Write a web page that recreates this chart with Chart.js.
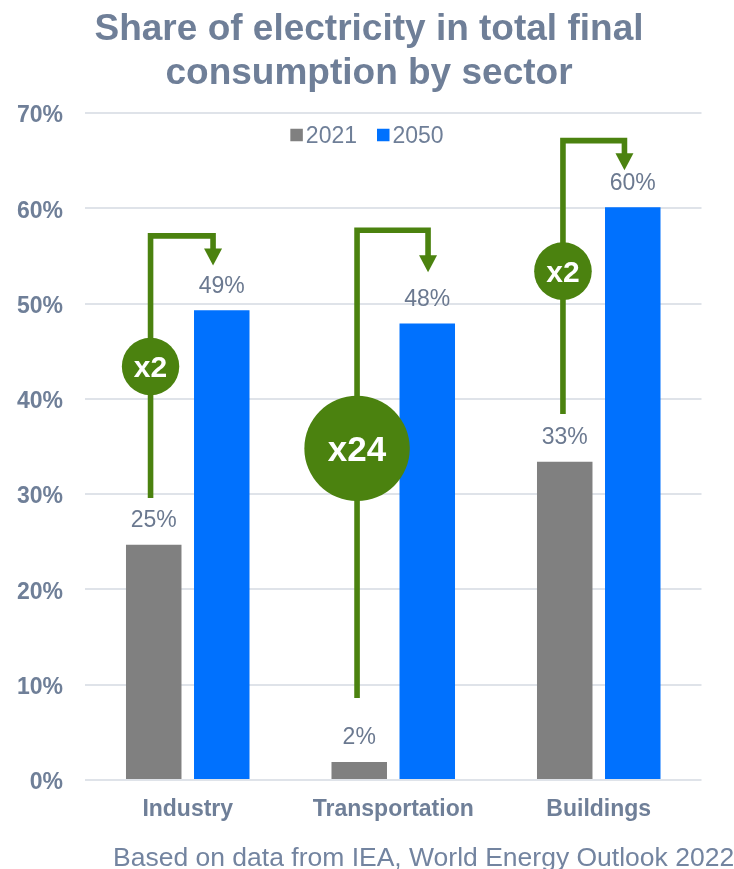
<!DOCTYPE html>
<html>
<head>
<meta charset="utf-8">
<title>Share of electricity in total final consumption by sector</title>
<script src="https://cdn.jsdelivr.net/npm/chart.js@4.4.1/dist/chart.umd.min.js"></script>
<style>
  html, body { margin: 0; padding: 0; background: #ffffff; }
  #wrap { position: relative; width: 734px; height: 869px; }
  canvas { display: block; }
</style>
</head>
<body>
<div id="wrap"><canvas id="chart" width="734" height="869"></canvas></div>
<script>
// ---- Data ----
const categories = ['Industry', 'Transportation', 'Buildings'];
const seriesNames = ['2021', '2050'];
const share2021 = [24.7, 1.9, 33.4];
const share2050 = [49.3, 47.9, 60.1];
const growthLabels = ['x2', 'x24', 'x2'];
const yTickValues = [0, 10, 20, 30, 40, 50, 60, 70];
const titleLines = ['Share of electricity in total final', 'consumption by sector'];
const sourceNote = 'Based on data from IEA, World Energy Outlook 2022';

// ---- Styling ----
const FONT = "'Liberation Sans', Arial, Helvetica, sans-serif";
const TEXT_COLOR = '#6f7f98';
const LABEL_COLOR = '#6b7990';
const GRAY = '#808080';
const BLUE = '#0071fe';
const GREEN = '#4b820f';

// Arrow connectors (value units on the y scale, pixel offsets from category centre)
const arrowGeometry = [
  { from: 29.6, top: 57.1, tip: 54.0, badge: 43.4, r: 28.7, left: -37.2, right: 25.3, fontSize: 30 },
  { from: 8.6,  top: 57.7, tip: 53.3, badge: 34.8, r: 52.7, left: -36.2, right: 34.8, fontSize: 35 },
  { from: 38.4, top: 67.1, tip: 64.0, badge: 53.4, r: 28.8, left: -35.8, right: 25.7, fontSize: 30 }
];

const decorations = {
  id: 'decorations',
  afterDatasetsDraw(chart) {
    const ctx = chart.ctx;
    const x = chart.scales.x, y = chart.scales.y;

    // value labels above each bar
    ctx.save();
    ctx.font = `23px ${FONT}`;
    ctx.fillStyle = LABEL_COLOR;
    ctx.textAlign = 'center';
    ctx.textBaseline = 'alphabetic';
    chart.data.datasets.forEach((ds, di) => {
      chart.getDatasetMeta(di).data.forEach((bar, i) => {
        ctx.fillText(Math.round(ds.data[i]) + '%', bar.x, bar.y - 17.5);
      });
    });
    ctx.restore();

    // growth arrows with badges
    arrowGeometry.forEach((g, i) => {
      const cx = x.getPixelForValue(i);
      const lx = cx + g.left, rx = cx + g.right;
      const yFrom = y.getPixelForValue(g.from);
      const yTop = y.getPixelForValue(g.top);
      const yTip = y.getPixelForValue(g.tip);
      const head = 17;
      ctx.save();
      ctx.strokeStyle = GREEN;
      ctx.fillStyle = GREEN;
      ctx.lineWidth = 5.6;
      ctx.lineJoin = 'miter';
      ctx.lineCap = 'butt';
      ctx.beginPath();
      ctx.moveTo(lx, yFrom);
      ctx.lineTo(lx, yTop);
      ctx.lineTo(rx, yTop);
      ctx.lineTo(rx, yTip - head + 1);
      ctx.stroke();
      ctx.beginPath();
      ctx.moveTo(rx - 9, yTip - head);
      ctx.lineTo(rx + 9, yTip - head);
      ctx.lineTo(rx, yTip);
      ctx.closePath();
      ctx.fill();
      const by = y.getPixelForValue(g.badge);
      ctx.beginPath();
      ctx.arc(lx, by, g.r, 0, Math.PI * 2);
      ctx.fill();
      ctx.fillStyle = '#ffffff';
      ctx.font = `bold ${g.fontSize}px ${FONT}`;
      ctx.textAlign = 'center';
      ctx.textBaseline = 'alphabetic';
      ctx.fillText(growthLabels[i], lx, by + g.fontSize * 0.358);
      ctx.restore();
    });
  },
  afterDraw(chart) {
    const ctx = chart.ctx;
    const W = chart.width;
    ctx.save();
    // title
    ctx.fillStyle = TEXT_COLOR;
    ctx.font = `bold 37px ${FONT}`;
    ctx.textAlign = 'center';
    ctx.textBaseline = 'alphabetic';
    ctx.fillText(titleLines[0], W / 2 + 2, 40);
    ctx.fillText(titleLines[1], W / 2 + 2, 84);

    // legend
    ctx.font = `23px ${FONT}`;
    ctx.textAlign = 'left';
    const box = 12.5, gap = 3, itemGap = 20;
    const widths = seriesNames.map(s => ctx.measureText(s).width);
    const total = widths.reduce((a, w) => a + box + gap + w, 0) + itemGap * (seriesNames.length - 1);
    let lx = W / 2 - total / 2;
    const ly = 135;
    chart.data.datasets.forEach((ds, i) => {
      ctx.fillStyle = ds.backgroundColor;
      ctx.fillRect(lx, ly - box / 2, box, box);
      ctx.fillStyle = TEXT_COLOR;
      ctx.fillText(seriesNames[i], lx + box + gap, ly + 23 * 0.358);
      lx += box + gap + widths[i] + itemGap;
    });

    // source note
    ctx.font = `26.5px ${FONT}`;
    ctx.fillStyle = '#7384a0';
    ctx.fillText(sourceNote, 113, 866);
    ctx.restore();
  }
};

new Chart(document.getElementById('chart'), {
  type: 'bar',
  data: {
    labels: categories,
    datasets: [
      { label: seriesNames[0], data: share2021, backgroundColor: GRAY,
        categoryPercentage: 0.662, barPercentage: 0.816 },
      { label: seriesNames[1], data: share2050, backgroundColor: BLUE,
        categoryPercentage: 0.662, barPercentage: 0.816 }
    ]
  },
  options: {
    responsive: false,
    animation: false,
    devicePixelRatio: 1,
    layout: { padding: { top: 113, right: 32.5, left: 0, bottom: 0 } },
    plugins: {
      legend: { display: false },
      title: { display: false },
      tooltip: { enabled: false }
    },
    scales: {
      x: {
        grid: { display: false, drawTicks: false },
        border: { display: false },
        ticks: {
          color: TEXT_COLOR,
          font: { family: FONT, size: 23, weight: 'bold' },
          padding: 16
        },
        afterFit(scale) { scale.height = 89; }
      },
      y: {
        min: 0,
        max: 70,
        afterBuildTicks(scale) { scale.ticks = yTickValues.map(v => ({ value: v })); },
        grid: { color: '#dfe3e9', lineWidth: 2, drawTicks: false },
        border: { display: false },
        ticks: {
          color: TEXT_COLOR,
          font: { family: FONT, size: 23, weight: 'bold' },
          padding: 22,
          labelOffset: 3,
          callback: v => v + '%'
        },
        afterFit(scale) { scale.width = 85; }
      }
    }
  },
  plugins: [decorations]
});
</script>
</body>
</html>
